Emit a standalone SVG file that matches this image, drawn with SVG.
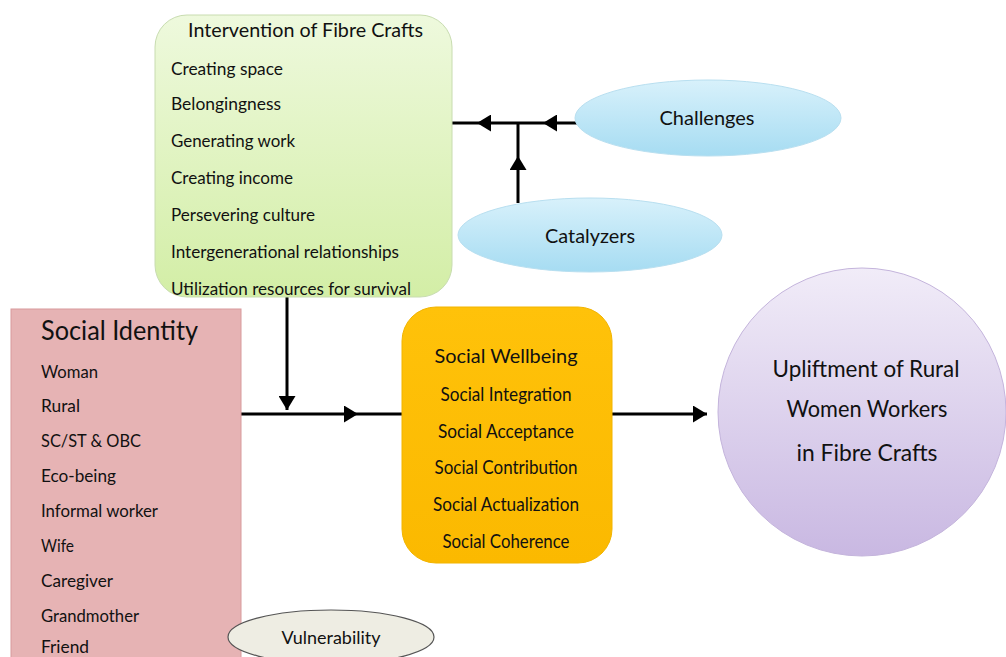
<svg xmlns="http://www.w3.org/2000/svg" width="1006" height="657" viewBox="0 0 1006 657">
<style>
text{font-family:Lato,"Open Sans","DejaVu Sans",sans-serif;fill:#111}
.it{font-size:17px}
.pk{font-size:17px}
.ow{font-size:19px;text-anchor:middle}
.ln{stroke:#000;stroke-width:3;fill:none}
</style>
<defs>
<linearGradient id="gGreen" x1="0" y1="0" x2="0" y2="1"><stop offset="0" stop-color="#eef9dd"/><stop offset="1" stop-color="#d3eea6"/></linearGradient>
<linearGradient id="gBlue" x1="0" y1="0" x2="0" y2="1"><stop offset="0" stop-color="#d8f1fb"/><stop offset="1" stop-color="#a6dcf2"/></linearGradient>
<linearGradient id="gLav" x1="0" y1="0" x2="0" y2="1"><stop offset="0" stop-color="#f1ecf8"/><stop offset="1" stop-color="#c9b8e2"/></linearGradient>
<linearGradient id="gOr" x1="0" y1="0" x2="0" y2="1"><stop offset="0" stop-color="#ffc20a"/><stop offset="1" stop-color="#fbb900"/></linearGradient>
<marker id="ah" viewBox="0 0 14 17" refX="14" refY="8.5" markerWidth="14" markerHeight="17" markerUnits="userSpaceOnUse" orient="auto"><path d="M0,0 L14,8.5 L0,17 Z" fill="#000"/></marker>
</defs>
<rect width="1006" height="657" fill="#fff"/>
<g id="connectors">
<path class="ln" d="M577,123 L543,123" marker-end="url(#ah)"/>
<path class="ln" d="M543,123 L477,123" marker-end="url(#ah)"/>
<path class="ln" d="M477,123 L452,123"/>
<path class="ln" d="M518,203 L518,156" marker-end="url(#ah)"/>
<path class="ln" d="M518,156 L518,123"/>
<path class="ln" d="M287,297 L287,410" marker-end="url(#ah)"/>
<path class="ln" d="M241,414 L358,414" marker-end="url(#ah)"/>
<path class="ln" d="M358,414 L402,414"/>
<path class="ln" d="M612,414 L707,414" marker-end="url(#ah)"/>
</g>
<g id="intervention">
<rect x="155" y="15" width="297" height="282" rx="32" fill="url(#gGreen)" stroke="#c8dcb0" stroke-width="1"/>
<text x="188" y="37" font-size="20" textLength="235" lengthAdjust="spacingAndGlyphs">Intervention of Fibre Crafts</text>
<text class="it" x="171" y="75" textLength="112" lengthAdjust="spacingAndGlyphs">Creating space</text>
<text class="it" x="171" y="110" textLength="110" lengthAdjust="spacingAndGlyphs">Belongingness</text>
<text class="it" x="171" y="147" textLength="124" lengthAdjust="spacingAndGlyphs">Generating work</text>
<text class="it" x="171" y="184" textLength="122" lengthAdjust="spacingAndGlyphs">Creating income</text>
<text class="it" x="171" y="221" textLength="144" lengthAdjust="spacingAndGlyphs">Persevering culture</text>
<text class="it" x="171" y="258" textLength="228" lengthAdjust="spacingAndGlyphs">Intergenerational relationships</text>
<text class="it" x="171" y="295" textLength="240" lengthAdjust="spacingAndGlyphs">Utilization resources for survival</text>
</g>
<g id="challenges">
<ellipse cx="708" cy="118" rx="133" ry="38" fill="url(#gBlue)" stroke="#b8dff0" stroke-width="1"/>
<text x="707" y="125" font-size="20" text-anchor="middle" textLength="95" lengthAdjust="spacingAndGlyphs">Challenges</text>
</g>
<g id="catalyzers">
<ellipse cx="590" cy="235" rx="132" ry="37" fill="url(#gBlue)" stroke="#b8dff0" stroke-width="1"/>
<text x="590" y="243" font-size="20" text-anchor="middle" textLength="90" lengthAdjust="spacingAndGlyphs">Catalyzers</text>
</g>
<g id="social-identity">
<rect x="11" y="309" width="230" height="360" fill="#e6b3b4" stroke="#d89a9c" stroke-width="1"/>
<text x="41" y="340" font-size="27" textLength="157" lengthAdjust="spacingAndGlyphs">Social Identity</text>
<text class="pk" x="41" y="378" textLength="57" lengthAdjust="spacingAndGlyphs">Woman</text>
<text class="pk" x="41" y="412" textLength="39" lengthAdjust="spacingAndGlyphs">Rural</text>
<text class="pk" x="41" y="447" textLength="100" lengthAdjust="spacingAndGlyphs">SC/ST &amp; OBC</text>
<text class="pk" x="41" y="482" textLength="75" lengthAdjust="spacingAndGlyphs">Eco-being</text>
<text class="pk" x="41" y="517" textLength="117" lengthAdjust="spacingAndGlyphs">Informal worker</text>
<text class="pk" x="41" y="552" textLength="33" lengthAdjust="spacingAndGlyphs">Wife</text>
<text class="pk" x="41" y="587" textLength="72" lengthAdjust="spacingAndGlyphs">Caregiver</text>
<text class="pk" x="41" y="622" textLength="98" lengthAdjust="spacingAndGlyphs">Grandmother</text>
<text class="pk" x="41" y="653" textLength="48" lengthAdjust="spacingAndGlyphs">Friend</text>
</g>
<g id="social-wellbeing">
<rect x="402" y="307" width="210" height="256" rx="34" fill="url(#gOr)" stroke="#f2b400" stroke-width="1"/>
<text class="ow" x="506" y="363" font-size="21" textLength="143" lengthAdjust="spacingAndGlyphs">Social Wellbeing</text>
<text class="ow" x="506" y="401" textLength="131" lengthAdjust="spacingAndGlyphs">Social Integration</text>
<text class="ow" x="506" y="438" textLength="136" lengthAdjust="spacingAndGlyphs">Social Acceptance</text>
<text class="ow" x="506" y="474" textLength="143" lengthAdjust="spacingAndGlyphs">Social Contribution</text>
<text class="ow" x="506" y="511" textLength="146" lengthAdjust="spacingAndGlyphs">Social Actualization</text>
<text class="ow" x="506" y="548" textLength="127" lengthAdjust="spacingAndGlyphs">Social Coherence</text>
</g>
<g id="upliftment">
<circle cx="862" cy="412" r="144" fill="url(#gLav)" stroke="#c4b4dc" stroke-width="1"/>
<text x="866" y="377" font-size="23" text-anchor="middle" textLength="187" lengthAdjust="spacingAndGlyphs">Upliftment of Rural</text>
<text x="867" y="417" font-size="23" text-anchor="middle" textLength="161" lengthAdjust="spacingAndGlyphs">Women Workers</text>
<text x="867" y="461" font-size="23" text-anchor="middle" textLength="141" lengthAdjust="spacingAndGlyphs">in Fibre Crafts</text>
</g>
<g id="vulnerability">
<ellipse cx="331" cy="637" rx="103" ry="27" fill="#eeede3" stroke="#555" stroke-width="1.2"/>
<text x="331" y="644" font-size="18" text-anchor="middle" textLength="99" lengthAdjust="spacingAndGlyphs">Vulnerability</text>
</g>
</svg>
